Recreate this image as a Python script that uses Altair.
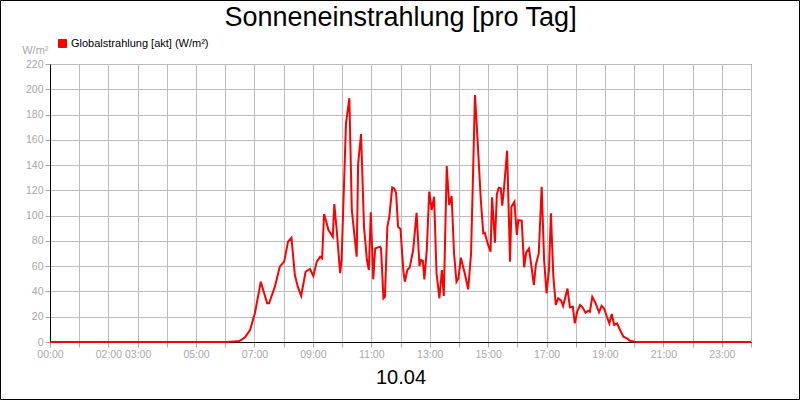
import altair as alt
import pandas as pd

chart_title = "Sonneneinstrahlung [pro Tag]"
date_label = "10.04"
series_name = "Globalstrahlung [akt] (W/m²)"
y_unit = "W/m²"

times = [
    "00:00", "06:00", "06:27", "06:34", "06:41", "06:51", "07:01", "07:13", "07:26", "07:30",
    "07:42", "07:52", "08:01", "08:09", "08:16", "08:23", "08:29", "08:36", "08:45", "08:54",
    "09:01", "09:08", "09:15", "09:19", "09:23", "09:27", "09:32", "09:41", "09:44", "09:49",
    "09:56", "09:59", "10:08", "10:15", "10:20", "10:30", "10:33", "10:39", "10:45", "10:51",
    "10:55", "10:59", "11:04", "11:08", "11:18", "11:20", "11:25", "11:28", "11:33", "11:37",
    "11:43", "11:47", "11:51", "11:55", "12:00", "12:06", "12:09", "12:14", "12:19", "12:26",
    "12:33", "12:39", "12:42", "12:46", "12:49", "12:54", "12:59", "13:04", "13:09", "13:14",
    "13:20", "13:25", "13:29", "13:35", "13:40", "13:45", "13:50", "13:55", "13:59", "14:04",
    "14:12", "14:19", "14:25", "14:33", "14:36", "14:45", "14:50", "14:53", "15:00", "15:05",
    "15:08", "15:14", "15:18", "15:22", "15:26", "15:29", "15:32", "15:39", "15:45", "15:48",
    "15:54", "15:59", "16:02", "16:09", "16:14", "16:18", "16:24", "16:34", "16:38", "16:44",
    "16:50", "16:55", "17:00", "17:05", "17:09", "17:14", "17:19", "17:24", "17:30", "17:34",
    "17:43", "17:48", "17:54", "17:58", "18:03", "18:09", "18:14", "18:20", "18:26", "18:29",
    "18:34", "18:40", "18:48", "18:53", "18:58", "19:04", "19:09", "19:14", "19:19", "19:25",
    "19:31", "19:38", "19:45", "19:51", "20:02", "20:10", "24:00",
]
values = [
    0, 0, 0.5, 1.8, 4, 9.5, 23, 47.7, 30.6, 30.6,
    43.8, 59.6, 63.6, 79.4, 82.6, 53, 43.8, 36.4, 55.6, 57.8,
    52.2, 63.6, 67.5, 66.2, 101.3, 96, 88.6, 83.3, 109.2, 88.6,
    54.4, 64.9, 173, 192.9, 104.5, 67.5, 141.4, 164.6, 91.2, 64.9,
    57, 102.6, 49.6, 74.1, 75.4, 74.1, 34.6, 35.8, 91.2, 99.1,
    122.4, 121.6, 117.7, 91.2, 89.4, 55.6, 47.7, 57, 59.1, 72.8,
    102.3, 60.1, 64.9, 64.1, 49.6, 72.8, 118.9, 104.5, 115, 54.4,
    34.6, 57, 36.4, 139.3, 108.4, 115.5, 70.2, 47.7, 50.4, 66.7,
    54.4, 41.7, 70.2, 195.5, 176, 112.4, 86, 86.5, 76.8, 71.5,
    114.5, 78.6, 117.1, 122.1, 121.6, 107.9, 118.9, 151.4, 63.6, 107.1,
    111, 84.7, 96.5, 96, 59.1, 70.7, 74.1, 45.1, 60.9, 70.2,
    122.9, 64.9, 38.5, 57, 101.8, 51.7, 29.3, 34.6, 32.7, 28.5,
    42.3, 27.5, 27.9, 14.8, 24, 29.3, 27.5, 23.2, 24.8, 24,
    35.8, 31.4, 23.5, 28.7, 26.7, 20, 14.8, 22.2, 13.5, 14.8,
    9.5, 4.2, 2.9, 1, 0.2, 0, 0,
]
x_label_hours = [0, 2, 3, 5, 7, 9, 11, 13, 15, 17, 19, 21, 23]
y_ticks = [0, 20, 40, 60, 80, 100, 120, 140, 160, 180, 200, 220]

minutes = [int(t[:2]) * 60 + int(t[3:]) for t in times]
df = pd.DataFrame({"minute": minutes, "value": values, "series": series_name})

FONT = "Liberation Sans"
GRAY = "#a8a8a8"
W, H = 701, 278

hours_js = "[" + ",".join(str(h) for h in x_label_hours) + "]"
label_expr = (
    f"indexof({hours_js}, datum.value/60) >= 0 ? "
    "((datum.value/60) < 10 ? '0' : '') + (datum.value/60) + ':00' : ''"
)

line = alt.Chart(df).mark_line(strokeWidth=2, interpolate="linear").encode(
    x=alt.X(
        "minute:Q",
        scale=alt.Scale(domain=[0, 1440], nice=False, zero=False),
        axis=alt.Axis(
            values=list(range(0, 1441, 60)),
            labelExpr=label_expr,
            labelOverlap=False,
            labelFlush=False,
            grid=True,
            gridColor="#bdbdbd",
            domainColor="black",
            tickColor=GRAY,
            tickSize=5,
            labelColor=GRAY,
            labelFont=FONT,
            labelFontSize=10.5,
            labelPadding=2,
            title=date_label,
            titleFont=FONT,
            titleFontSize=20,
            titleFontWeight="normal",
            titleColor="black",
            titlePadding=8,
        ),
    ),
    y=alt.Y(
        "value:Q",
        scale=alt.Scale(domain=[0, 220], nice=False),
        axis=alt.Axis(
            values=y_ticks,
            grid=True,
            gridColor="#bdbdbd",
            domainColor="black",
            tickColor=GRAY,
            tickSize=5,
            labelColor=GRAY,
            labelFont=FONT,
            labelFontSize=10.5,
            labelPadding=2,
            title=y_unit,
            titleFont=FONT,
            titleFontSize=11,
            titleFontWeight="normal",
            titleColor=GRAY,
            titleAngle=0,
            titleAlign="right",
            titleBaseline="alphabetic",
            titleX=-2,
            titleY=-11,
        ),
    ),
    color=alt.Color(
        "series:N",
        scale=alt.Scale(domain=[series_name], range=["#ff0000"]),
        legend=alt.Legend(
            orient="none",
            legendX=7,
            legendY=-26,
            title=None,
            symbolType="square",
            symbolSize=64,
            symbolFillColor="#ff0000",
            symbolStrokeColor="black",
            symbolStrokeWidth=1,
            symbolOpacity=1,
            labelFont=FONT,
            labelFontSize=11,
            labelColor="black",
            labelOffset=3,
        ),
    ),
)

title_text = alt.Chart(pd.DataFrame({"label": [chart_title]})).mark_text(
    font=FONT, fontSize=27, color="black", align="center", baseline="alphabetic"
).encode(text="label:N", x=alt.value(W / 2), y=alt.value(-38))

frame = alt.Chart(pd.DataFrame({"k": [0]})).mark_rect(
    filled=False, stroke="black", strokeWidth=1, clip=False
).encode(x=alt.value(-49.5), x2=alt.value(749.5), y=alt.value(-63.5), y2=alt.value(335.5))

chart = alt.layer(frame, line, title_text).properties(
    width=W,
    height=H,
    padding={"left": 50, "top": 64, "right": 49, "bottom": 58},
    autosize=alt.AutoSizeParams(type="none"),
    background="white",
).configure_view(stroke="black", strokeWidth=1)

chart.save("out.html", embed_options={"renderer": "svg", "actions": False})
